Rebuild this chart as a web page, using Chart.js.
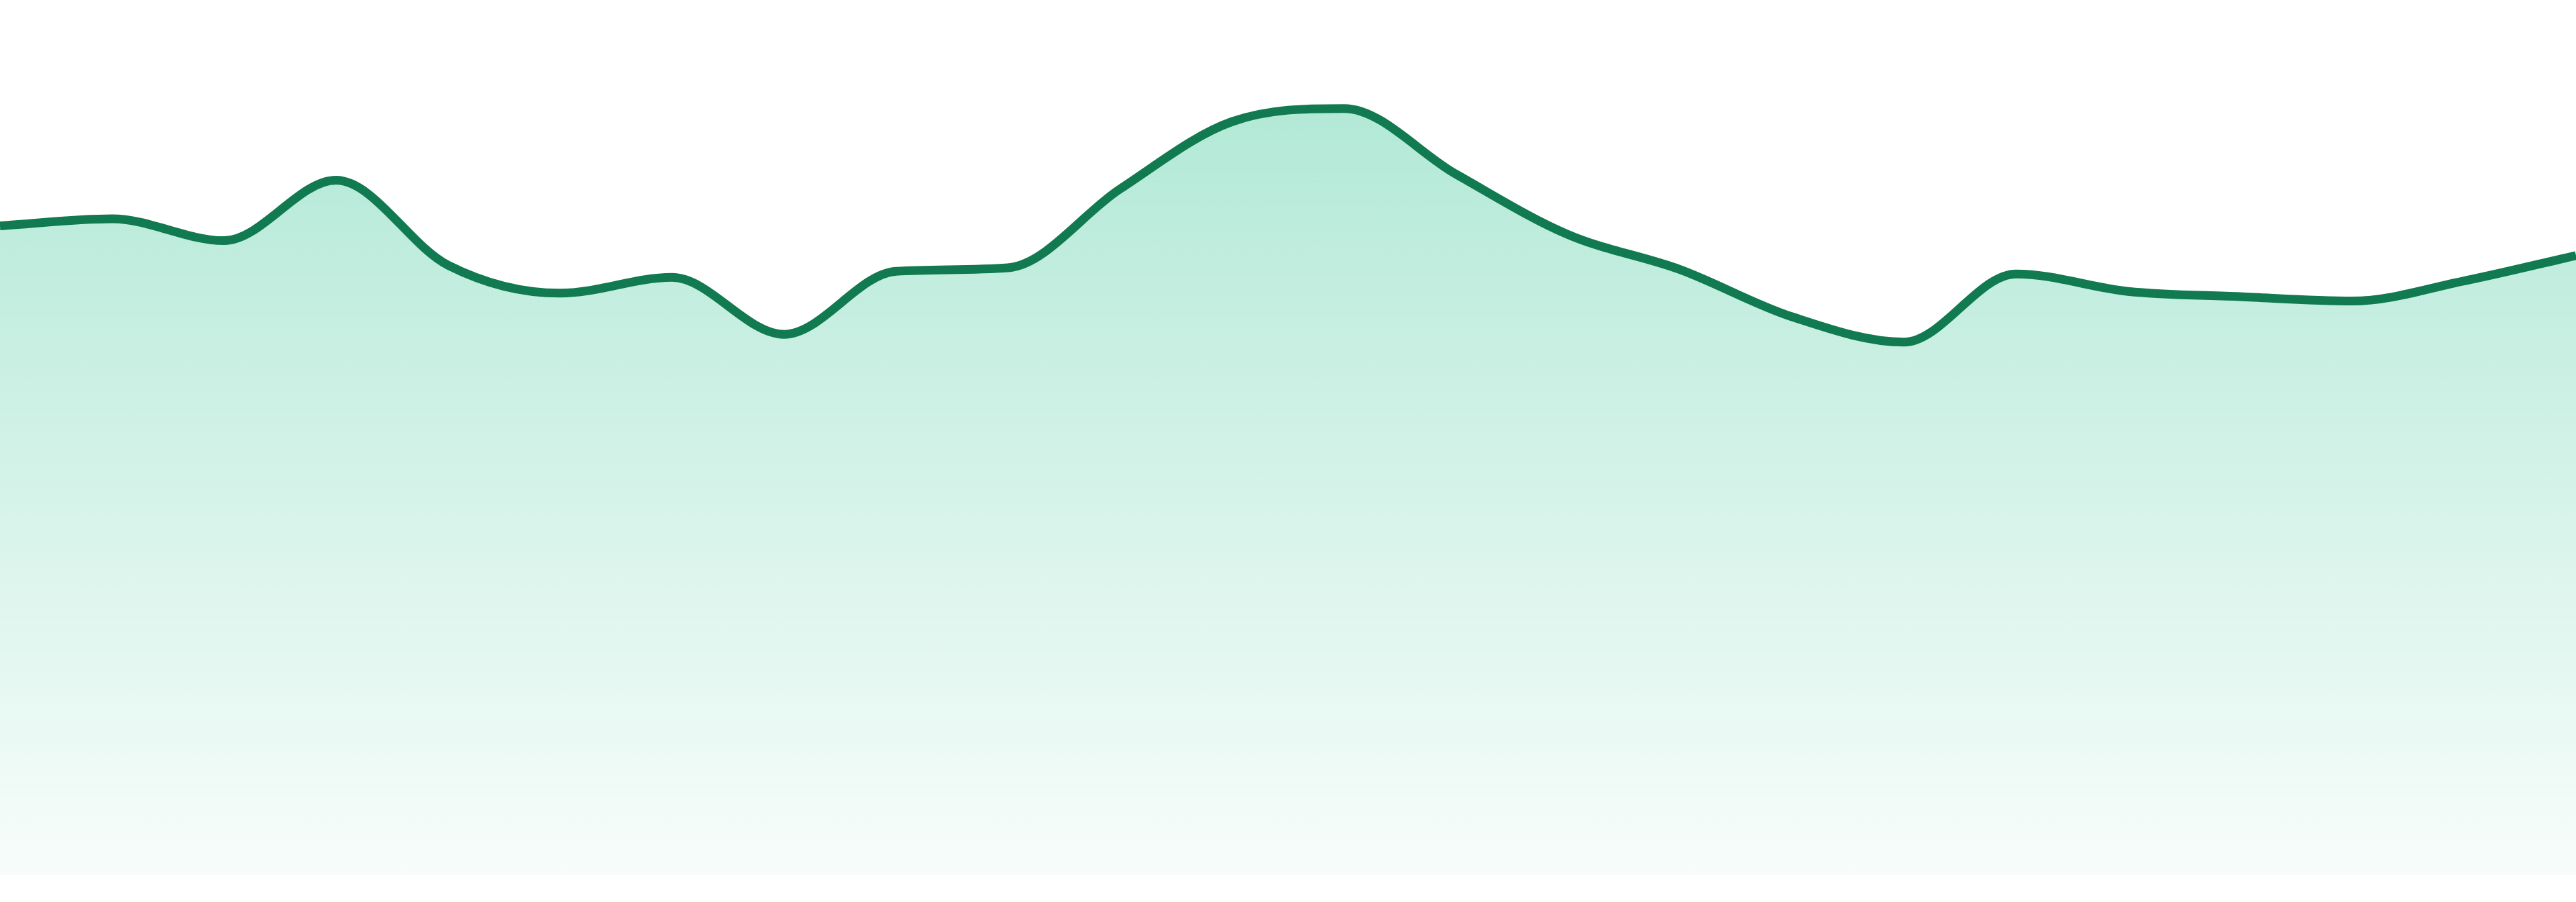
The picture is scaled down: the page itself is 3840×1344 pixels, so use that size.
<!DOCTYPE html>
<html>
<head>
<meta charset="utf-8">
<script src="https://cdn.jsdelivr.net/npm/chart.js@4/dist/chart.umd.min.js"></script>
<style>
  html, body { margin: 0; padding: 0; background: #fff; }
  #wrap { width: 3840px; height: 1344px; position: relative; }
</style>
</head>
<body>
<div id="wrap"><canvas id="trend"></canvas></div>
<script>
    let hours = ['00', '01', '02', '03', '04', '05', '06', '07', '08', '09', '10', '11',
                 '12', '13', '14', '15', '16', '17', '18', '19', '20', '21', '22', '23'];
    let visits = [74.2, 75.0, 72.5, 79.4, 69.7, 66.5, 68.3, 61.8, 69.0, 69.4, 78.4, 86.1,
                  87.6, 80.1, 73.2, 69.2, 63.8, 60.9, 68.7, 66.7, 66.1, 65.6, 67.9, 70.8];
    let yRange = [0, 100];
    let lineColor = '#117a51';

    function areaFill(context) {
        let chart = context.chart;
        let area = chart.chartArea;
        if (!area) return 'rgba(16,185,129,0.2)';
        let g = chart.ctx.createLinearGradient(0, area.top, 0, area.bottom);
        g.addColorStop(0, 'rgba(16,185,129,0.36)');
        g.addColorStop(1, 'rgba(16,185,129,0.03)');
        return g;
    }

    new Chart('trend', {
        type: 'line',
        data: {
            labels: hours,
            datasets: [{
                data: visits,
                borderColor: lineColor,
                borderWidth: 13,
                backgroundColor: areaFill,
                fill: 'start',
                cubicInterpolationMode: 'monotone',
                pointRadius: 0,
                pointHoverRadius: 0
            }]
        },
        options: {
            responsive: true,
            maintainAspectRatio: false,
            animation: false,
            devicePixelRatio: 1,
            layout: { padding: { top: 0, left: 0, right: 0, bottom: 40 } },
            scales: {
                x: { display: false },
                y: { display: false, min: yRange[0], max: yRange[1] }
            },
            plugins: {
                legend: { display: false },
                tooltip: { enabled: false }
            }
        }
    });
</script>
</body>
</html>
